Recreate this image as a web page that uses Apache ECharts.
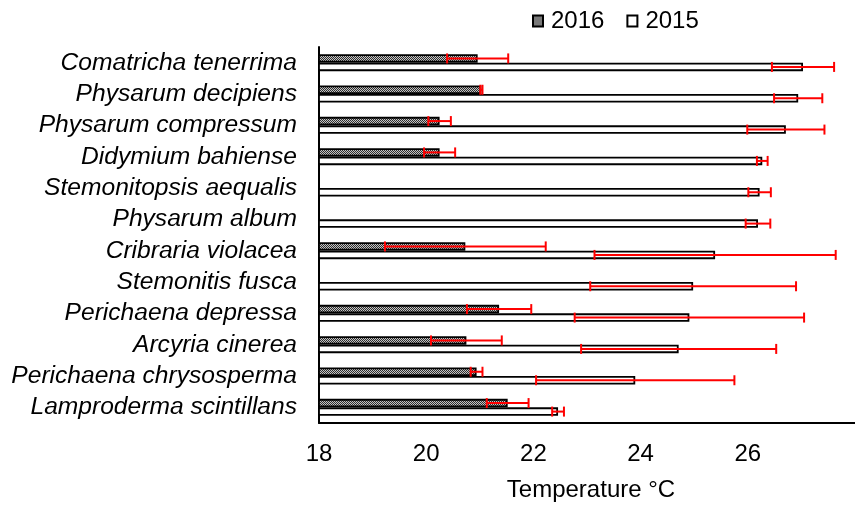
<!DOCTYPE html>
<html>
<head>
<meta charset="utf-8">
<script src="https://cdn.jsdelivr.net/npm/echarts@6/dist/echarts.min.js"></script>
<style>html,body{margin:0;padding:0;background:#fff}#c{width:855px;height:507px}</style>
</head>
<body>
<div id="c"></div>
<script>
const categories = ['Comatricha tenerrima','Physarum decipiens','Physarum compressum','Didymium bahiense','Stemonitopsis aequalis','Physarum album','Cribraria violacea','Stemonitis fusca','Perichaena depressa','Arcyria cinerea','Perichaena chrysosperma','Lamproderma scintillans'];
const values2016 = [20.96, 21.03, 20.25, 20.25, null, null, 20.73, null, 21.36, 20.75, 20.94, 21.52];
const err2016    = [0.57, 0.02, 0.21, 0.29, null, null, 1.50, null, 0.60, 0.66, 0.11, 0.39];
const values2015 = [27.03, 26.94, 26.71, 26.27, 26.22, 26.19, 25.39, 24.98, 24.91, 24.71, 23.90, 22.46];
const err2015    = [0.58, 0.45, 0.72, 0.10, 0.21, 0.23, 2.25, 1.92, 2.14, 1.82, 1.85, 0.11];
const xTicks = [18, 20, 22, 24, 26];

const FONT = 'Liberation Sans, Arial, sans-serif';
const BAR_W = 8.5;

// fine checker pattern for 2016 bars
const pc = document.createElement('canvas');
pc.width = 2; pc.height = 2;
const pctx = pc.getContext('2d');
pctx.fillStyle = '#c4c4c4'; pctx.fillRect(0,0,2,2);
pctx.fillStyle = '#2e2e2e'; pctx.fillRect(0,0,1,1); pctx.fillRect(1,1,1,1);

function errData(vals, errs){
  const out = [];
  vals.forEach((v,i)=>{ if(v!=null && errs[i]!=null) out.push([v-errs[i], v+errs[i], i]); });
  return out;
}
function errRender(sign){
  return function(params, api){
    const lo = api.coord([api.value(0), api.value(2)]);
    const hi = api.coord([api.value(1), api.value(2)]);
    const y = lo[1] + sign*BAR_W/2;
    const cap = 5;
    const st = {stroke:'#ff0000', lineWidth:2};
    return {type:'group', children:[
      {type:'line', shape:{x1:lo[0], y1:y, x2:hi[0], y2:y}, style:st},
      {type:'line', shape:{x1:lo[0], y1:y-cap, x2:lo[0], y2:y+cap}, style:st},
      {type:'line', shape:{x1:hi[0], y1:y-cap, x2:hi[0], y2:y+cap}, style:st}
    ]};
  };
}

const chart = echarts.init(document.getElementById('c'), null, {renderer:'canvas'});
chart.setOption({
  animation:false,
  backgroundColor:'#fff',
  legend:{
    data:['2016','2015'],
    left:527, top:4,
    itemWidth:10, itemHeight:11, itemGap:22,
    icon:'rect',
    textStyle:{fontFamily:FONT, fontSize:24, color:'#000', padding:[0,0,0,3]}
  },
  grid:{left:319, right:-7, top:47, bottom:73, containLabel:false},
  xAxis:{
    type:'value', min:18, max:28, interval:2,
    axisLine:{show:true, lineStyle:{color:'#000', width:2}},
    axisTick:{show:false},
    splitLine:{show:false},
    axisLabel:{fontFamily:FONT, fontSize:24, color:'#000', margin:19, showMaxLabel:false,
      formatter:function(v){ return xTicks.indexOf(v)>=0 ? String(v) : ''; }},
    name:'Temperature °C', nameLocation:'middle', nameGap:55,
    nameTextStyle:{fontFamily:FONT, fontSize:24, color:'#000', padding:[0,0,0,8]}
  },
  yAxis:{
    type:'category', data:categories, inverse:true,
    axisLine:{show:true, lineStyle:{color:'#000', width:2}},
    axisTick:{show:false},
    axisLabel:{interval:0, fontFamily:FONT, fontSize:24.6, fontStyle:'italic', color:'#000', margin:22}
  },
  series:[
    {name:'2016', type:'bar', data:values2016, barWidth:BAR_W, barGap:'0%',
      itemStyle:{color:{image:pc, repeat:'repeat'}, borderColor:'#000', borderWidth:1.8}},
    {name:'2015', type:'bar', data:values2015, barWidth:BAR_W, barGap:'0%',
      itemStyle:{color:'#fff', borderColor:'#000', borderWidth:1.8}},
    {name:'err2016', type:'custom', renderItem:errRender(-1), data:errData(values2016, err2016),
      encode:{x:[0,1], y:2}, z:5},
    {name:'err2015', type:'custom', renderItem:errRender(1), data:errData(values2015, err2015),
      encode:{x:[0,1], y:2}, z:5}
  ]
});
</script>
</body>
</html>
